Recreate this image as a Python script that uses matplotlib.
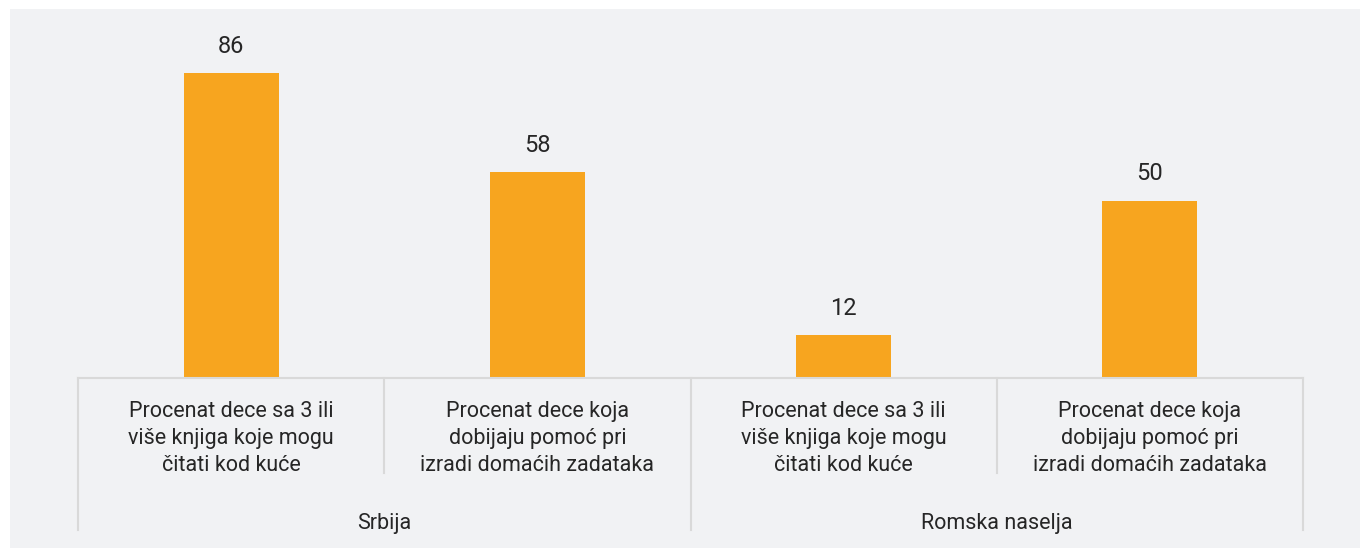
import matplotlib
matplotlib.use("Agg")
import matplotlib.pyplot as plt
from matplotlib.patches import Rectangle

categories = [
    "Procenat dece sa 3 ili\nviše knjiga koje mogu\nčitati kod kuće",
    "Procenat dece koja\ndobijaju pomoć pri\nizradi domaćih zadataka",
    "Procenat dece sa 3 ili\nviše knjiga koje mogu\nčitati kod kuće",
    "Procenat dece koja\ndobijaju pomoć pri\nizradi domaćih zadataka",
]
groups = ["Srbija", "Romska naselja"]
values = [86, 58, 12, 50]

bg = "#f1f2f4"
bar_color = "#f7a51f"
text_color = "#262626"
line_color = "#d9d9d9"
fonts = ["Roboto", "DejaVu Sans"]

W, H = 1366, 554
fig = plt.figure(figsize=(W / 100, H / 100), dpi=100, facecolor="white")
fig.patches.append(Rectangle((10 / W, 6 / H), 1350 / W, 539 / H,
                             transform=fig.transFigure, facecolor=bg,
                             edgecolor="none", zorder=-1))

ax = fig.add_axes([78 / W, (H - 378) / H, (1303 - 78) / W, (378 - 9) / H])
ax.set_facecolor("none")
x = list(range(len(values)))
bars = ax.bar(x, values, width=0.31, color=bar_color, zorder=2)
ax.set_xlim(-0.5, len(values) - 0.5)
ax.set_ylim(0, 104)

for b, v in zip(bars, values):
    ax.annotate(str(v), (b.get_x() + b.get_width() / 2, v), xytext=(0, 11),
                textcoords="offset points", ha="center", va="bottom",
                fontsize=17, color=text_color, family=fonts)

for s in ["top", "right", "left"]:
    ax.spines[s].set_visible(False)
ax.spines["bottom"].set_color(line_color)
ax.spines["bottom"].set_linewidth(1.5)
ax.set_xticks([])
ax.set_yticks([])

tr = ax.get_xaxis_transform()
for i, lab in enumerate(categories):
    ax.text(i, -0.163, lab, transform=tr, ha="center", va="center",
            fontsize=15.5, color=text_color, linespacing=1.38, family=fonts,
            clip_on=False)

n_per = len(categories) // len(groups)
for g, name in enumerate(groups):
    center = g * n_per + (n_per - 1) / 2
    ax.text(center, -0.393, name, transform=tr, ha="center", va="center",
            fontsize=15.5, color=text_color, family=fonts, clip_on=False)

for k in range(len(categories) + 1):
    xpos = k - 0.5
    bottom = -0.412 if k % n_per == 0 else -0.257
    ax.plot([xpos, xpos], [0, bottom], transform=tr, color=line_color,
            linewidth=1.5, clip_on=False)

fig.savefig("out.png", dpi=100, facecolor="white")
